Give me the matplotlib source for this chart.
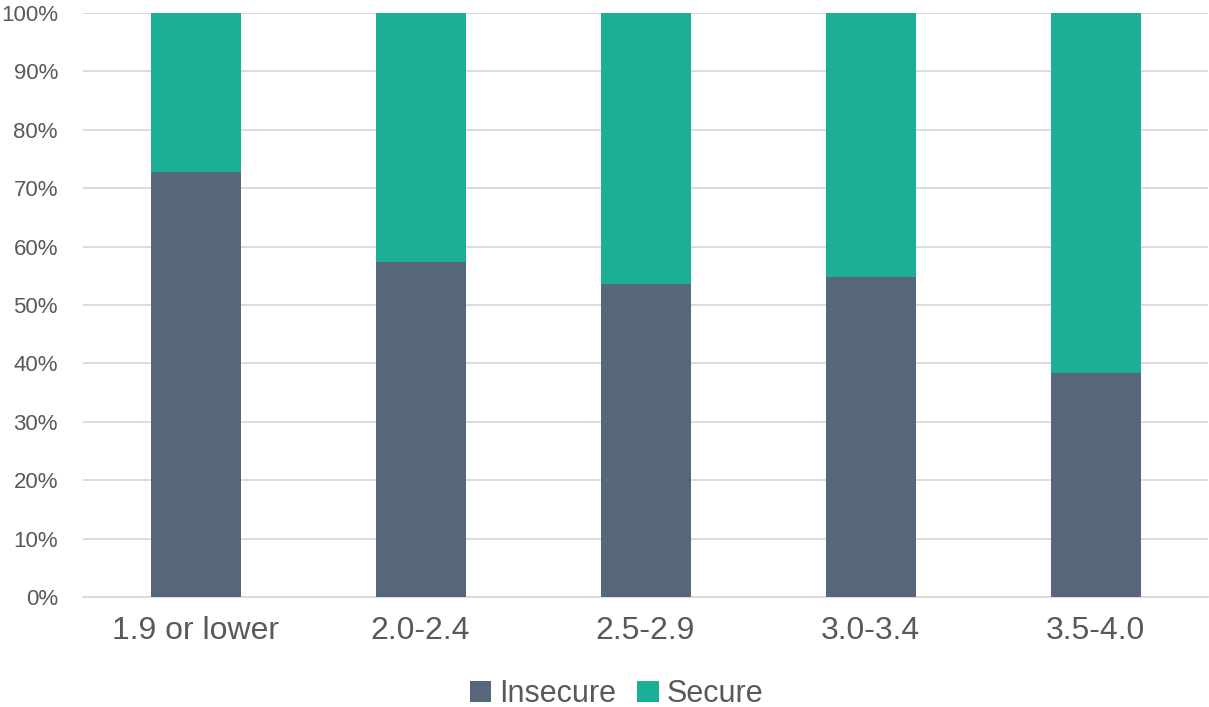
import numpy as np
import matplotlib.pyplot as plt
from matplotlib.ticker import PercentFormatter

plt.rcParams['font.family'] = ['Liberation Sans', 'DejaVu Sans']

categories = ["1.9 or lower", "2.0-2.4", "2.5-2.9", "3.0-3.4", "3.5-4.0"]
insecure = [72.8, 57.4, 53.6, 54.8, 38.3]
secure = [100 - v for v in insecure]

col_insecure = '#56677B'
col_secure = '#1CAF98'
text_col = '#595959'

fig = plt.figure(figsize=(12.09, 7.07), dpi=100)
ax = fig.add_axes([83 / 1209, 1 - 597 / 707, 1125 / 1209, 584 / 707])

x = np.arange(len(categories))
ax.bar(x, insecure, width=0.4, color=col_insecure, label='Insecure', zorder=3)
ax.bar(x, secure, width=0.4, bottom=insecure, color=col_secure, label='Secure', zorder=3)

ax.set_xlim(-0.5, len(categories) - 0.5)
ax.set_ylim(0, 100)
ax.set_yticks(np.arange(0, 101, 10))
ax.yaxis.set_major_formatter(PercentFormatter(decimals=0))
ax.grid(axis='y', color='#D9D9D9', linewidth=1.3, zorder=0)
ax.set_xticks(x)
ax.set_xticklabels(categories)

for s in ['top', 'right', 'left']:
    ax.spines[s].set_visible(False)
ax.spines['bottom'].set_color('#D9D9D9')
ax.spines['bottom'].set_linewidth(1.3)
ax.tick_params(axis='both', length=0)
ax.tick_params(axis='y', labelsize=16, labelcolor=text_col, pad=18)
ax.tick_params(axis='x', labelsize=23, labelcolor=text_col, pad=14)

leg = fig.legend(loc='center', bbox_to_anchor=(0.51, 1 - 694 / 707), ncol=2,
                 frameon=False, fontsize=22, handlelength=0.7, handleheight=0.7,
                 handletextpad=0.25, columnspacing=0.7)
for t in leg.get_texts():
    t.set_color(text_col)

fig.savefig('out.png', dpi=100)
